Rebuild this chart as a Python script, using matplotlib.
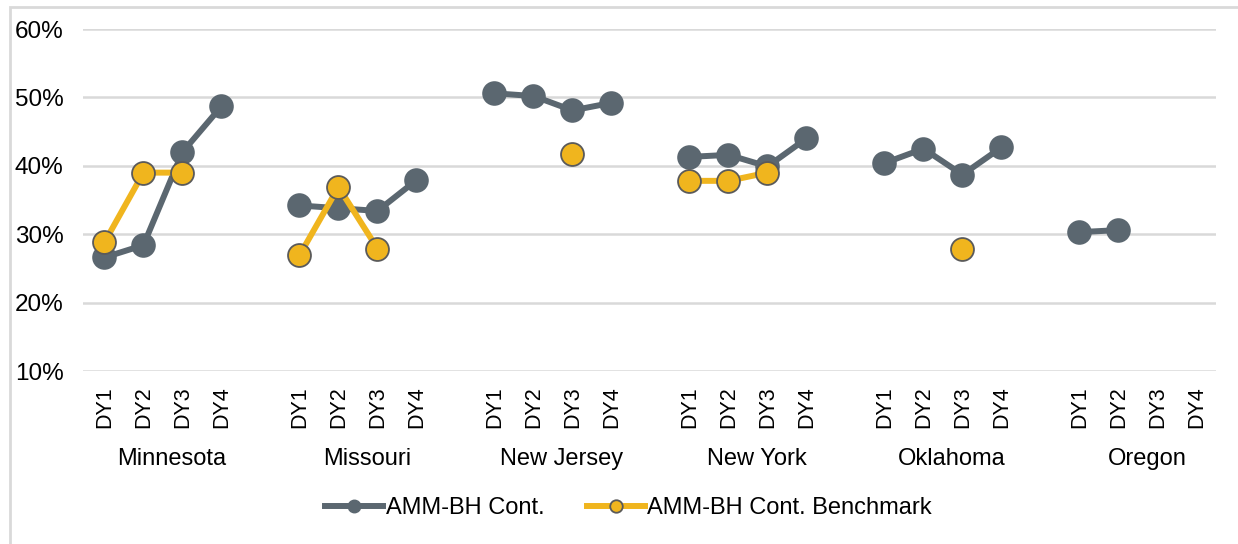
import numpy as np
import matplotlib
matplotlib.use("Agg")
import matplotlib.pyplot as plt
from matplotlib.lines import Line2D
from matplotlib.patches import Rectangle
from matplotlib.transforms import blended_transform_factory

states = ["Minnesota", "Missouri", "New Jersey", "New York", "Oklahoma", "Oregon"]
years = ["DY1", "DY2", "DY3", "DY4"]
nan = np.nan

amm_bh_cont = [
    [26.6, 28.4, 42.0, 48.7],   # Minnesota
    [34.2, 33.8, 33.4, 37.9],   # Missouri
    [50.6, 50.2, 48.1, 49.2],   # New Jersey
    [41.3, 41.6, 39.9, 44.0],   # New York
    [40.4, 42.5, 38.7, 42.7],   # Oklahoma
    [30.3, 30.6, nan, nan],     # Oregon
]
amm_bh_bench = [
    [28.8, 39.0, 39.0, nan],
    [26.9, 36.9, 27.9, nan],
    [nan, nan, 41.7, nan],
    [37.8, 37.8, 39.0, nan],
    [nan, nan, 27.9, nan],
    [nan, nan, nan, nan],
]
series_names = ["AMM-BH Cont.", "AMM-BH Cont. Benchmark"]
yticks = [10, 20, 30, 40, 50, 60]

GRAY = "#5b6770"
GOLD = "#f0b51e"
EDGE = "#5a5a5a"
GRID = "#d9d9d9"
FONT = "Liberation Sans"

plt.rcParams["font.family"] = [FONT, "DejaVu Sans"]

W, H = 1238, 544
fig = plt.figure(figsize=(W / 100, H / 100), dpi=100)
ax = fig.add_axes([83 / W, 1 - 371 / H, (1216 - 83) / W, (371 - 29) / H])

step = len(years) + 1
xticks, xlabels = [], []
for gi, st in enumerate(states):
    xs = [gi * step + j for j in range(len(years))]
    xticks += xs
    xlabels += years
    ax.plot(xs, amm_bh_cont[gi], color=GRAY, lw=4.3, marker="o", ms=16.5,
            mfc=GRAY, mec=GRAY, mew=1.2, zorder=3, solid_capstyle="round")
for gi, st in enumerate(states):
    xs = [gi * step + j for j in range(len(years))]
    ax.plot(xs, amm_bh_bench[gi], color=GOLD, lw=4.3, marker="o", ms=16.5,
            mfc=GOLD, mec=EDGE, mew=1.3, zorder=4, solid_capstyle="round")

ax.set_ylim(10, 60)
ax.set_xlim(-0.55, len(states) * step - 1.5)
ax.set_yticks(yticks)
ax.set_yticklabels([f"{v}%" for v in yticks], fontsize=17.5, color="#000000")
ax.set_xticks(xticks)
ax.set_xticklabels(xlabels, rotation=90, fontsize=15.5, color="#000000")
ax.tick_params(axis="both", length=0)
ax.tick_params(axis="y", pad=14)
ax.tick_params(axis="x", pad=11)
ax.grid(axis="y", color=GRID, lw=1.8, zorder=0)
ax.set_axisbelow(True)
for s in ax.spines.values():
    s.set_visible(False)

trans = blended_transform_factory(ax.transData, fig.transFigure)
for gi, st in enumerate(states):
    cx = gi * step + (len(years) - 1) / 2 + 0.23
    ax.text(cx, 1 - 459 / H, st, transform=trans, ha="center", va="center",
            fontsize=17, color="#000000")

handles = [
    Line2D([], [], color=GRAY, lw=4.3, marker="o", ms=9, mfc=GRAY, mec=GRAY),
    Line2D([], [], color=GOLD, lw=4.3, marker="o", ms=9, mfc=GOLD, mec=EDGE, mew=1.3),
]
fig.legend(handles, series_names, loc="center", bbox_to_anchor=(0.5077, 1 - 508 / H),
           ncol=2, frameon=False, fontsize=17, handlelength=2.45, handletextpad=0.12,
           columnspacing=1.8)

fig.patches.append(Rectangle((10 / W, -0.1), 1.2, 1 - 7 / H + 0.1, transform=fig.transFigure,
                             fill=False, edgecolor=GRID, lw=2))

fig.savefig("out.png", dpi=100)
